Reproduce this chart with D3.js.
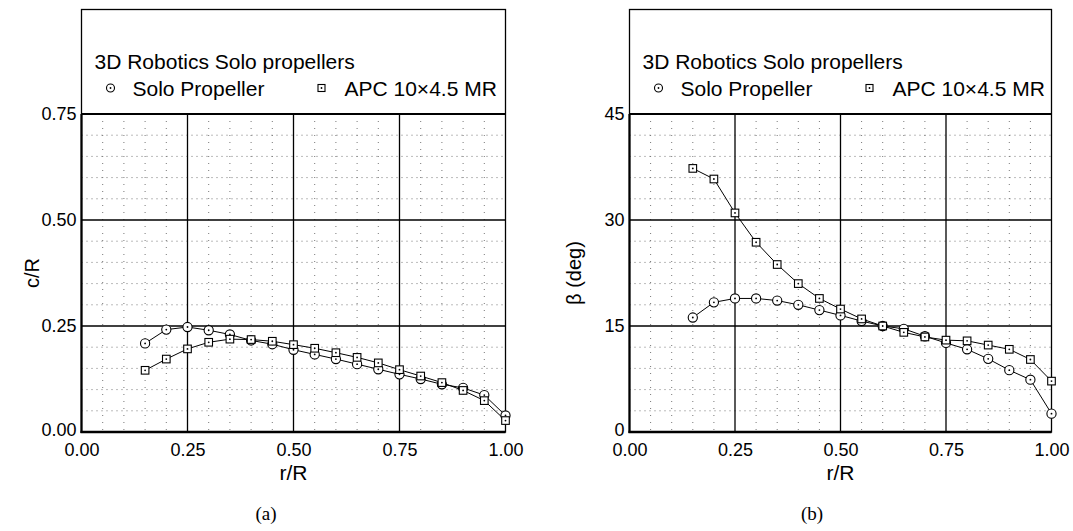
<!DOCTYPE html>
<html><head><meta charset="utf-8">
<script src="https://cdn.jsdelivr.net/npm/d3@7"></script>
<style>
html,body{margin:0;padding:0;background:#fff;}
svg{display:block;}
text{font-family:"Liberation Sans",Arial,Helvetica,sans-serif;fill:#000;}
.cap{font-family:"Liberation Serif","Times New Roman",serif;}
</style></head>
<body><svg id="chart" width="1073" height="531"></svg>
<script>
// ---- data ----
const rR = [0.15,0.20,0.25,0.30,0.35,0.40,0.45,0.50,0.55,0.60,0.65,0.70,0.75,0.80,0.85,0.90,0.95,1.00];
const chordSolo = [0.209,0.2415,0.2476,0.240,0.230,0.216,0.207,0.194,0.183,0.172,0.160,0.148,0.136,0.125,0.1125,0.104,0.087,0.039];
const chordAPC  = [0.1455,0.172,0.196,0.2116,0.219,0.218,0.214,0.206,0.1975,0.187,0.176,0.163,0.147,0.132,0.1165,0.098,0.074,0.027];
const twistSolo = [16.2,18.35,18.9,18.9,18.6,18.0,17.25,16.5,15.7,15.0,14.6,13.55,12.6,11.7,10.35,8.75,7.4,2.6];
const twistAPC  = [37.3,35.8,31.0,26.85,23.7,21.0,18.9,17.4,16.0,15.0,14.1,13.45,13.0,12.9,12.3,11.7,10.26,7.2];
const xTicks = [0,0.25,0.5,0.75,1.0];
const xTickLabels = ["0.00","0.25","0.50","0.75","1.00"];
const chordTicks = [0,0.25,0.5,0.75];
const chordTickLabels = ["0.00","0.25","0.50","0.75"];
const twistTicks = [0,15,30,45];
const twistTickLabels = ["0","15","30","45"];
const legendTitle = "3D Robotics Solo propellers";
const seriesNames = ["Solo Propeller","APC 10\u00d74.5 MR"];
const captions = ["(a)","(b)"];
const xLabel = "r/R";
const yLabels = ["c/R","\u03b2 (deg)"];

const svg = d3.select("#chart");

function drawPanel(o){
  const g = svg.append("g");
  const x = d3.scaleLinear().domain([0,1]).range([o.x0,o.x1]);
  const y = d3.scaleLinear().domain([0,o.ymax]).range([o.y1,o.y0]);
  // minor grid
  const xMinor = d3.range(0,1.0001,0.05).filter(v=>Math.abs(v*4-Math.round(v*4))>1e-6);
  const yMinor = d3.range(0,o.ymax+1e-9,o.ymajor/5).filter(v=>Math.abs(v/o.ymajor-Math.round(v/o.ymajor))>1e-6);
  g.selectAll(".vmin").data(xMinor).join("line")
    .attr("x1",d=>x(d)).attr("x2",d=>x(d)).attr("y1",o.y0).attr("y2",o.y1)
    .attr("stroke","#777").attr("stroke-width",1).attr("stroke-dasharray","1,6");
  g.selectAll(".hmin").data(yMinor).join("line")
    .attr("x1",o.x0).attr("x2",o.x1).attr("y1",d=>y(d)).attr("y2",d=>y(d))
    .attr("stroke","#777").attr("stroke-width",1).attr("stroke-dasharray","1,4");
  // major grid
  g.selectAll(".vmaj").data(xTicks.slice(1,-1)).join("line")
    .attr("x1",d=>x(d)).attr("x2",d=>x(d)).attr("y1",o.y0).attr("y2",o.y1)
    .attr("stroke","#000").attr("stroke-width",1.3);
  g.selectAll(".hmaj").data(o.yTicks.slice(1,-1)).join("line")
    .attr("x1",o.x0).attr("x2",o.x1).attr("y1",d=>y(d)).attr("y2",d=>y(d))
    .attr("stroke","#000").attr("stroke-width",1.3);
  // frame
  g.append("rect").attr("x",o.x0).attr("y",o.top).attr("width",o.x1-o.x0).attr("height",o.y1-o.top)
    .attr("fill","none").attr("stroke","#000").attr("stroke-width",1.3);
  g.append("line").attr("x1",o.x0).attr("x2",o.x1).attr("y1",o.y0).attr("y2",o.y0).attr("stroke","#000").attr("stroke-width",2);
  g.append("line").attr("x1",o.x0).attr("x2",o.x0).attr("y1",o.y0).attr("y2",o.y1+1).attr("stroke","#000").attr("stroke-width",2.2);
  g.append("line").attr("x1",o.x0-1).attr("x2",o.x1).attr("y1",o.y1).attr("y2",o.y1).attr("stroke","#000").attr("stroke-width",2.4);
  // axes labels via d3 axes
  const ax = g.append("g").attr("transform",`translate(0,${o.y1})`)
    .call(d3.axisBottom(x).tickValues(xTicks).tickFormat((d,i)=>xTickLabels[i]).tickSize(0).tickPadding(11));
  ax.select(".domain").remove();
  ax.selectAll("text").attr("font-size",18).attr("font-family","Liberation Sans, Arial, sans-serif").attr("fill","#000");
  const ay = g.append("g").attr("transform",`translate(${o.x0},0)`)
    .call(d3.axisLeft(y).tickValues(o.yTicks).tickFormat((d,i)=>o.yTickLabels[i]).tickSize(0).tickPadding(5));
  ay.select(".domain").remove();
  ay.selectAll("text").attr("font-size",18).attr("font-family","Liberation Sans, Arial, sans-serif").attr("fill","#000")
    .attr("dy",(d,i)=>i===0?"0.2em":"0.32em");
  // axis titles
  g.append("text").attr("x",(o.x0+o.x1)/2).attr("y",480).attr("text-anchor","middle")
    .attr("font-size",21).text(xLabel);
  g.append("text").attr("transform",`translate(${o.ylabX},${(o.y0+o.y1)/2}) rotate(-90)`)
    .attr("text-anchor","middle").attr("font-size",20).text(o.yLabel);
  g.append("text").attr("class","cap").attr("x",o.capX).attr("y",520).attr("text-anchor","middle")
    .attr("font-size",19).text(o.caption);
  // series
  const line = d3.line().x(d=>x(d[0])).y(d=>y(d[1]));
  const s1 = rR.map((r,i)=>[r,o.s1[i]]);
  const s2 = rR.map((r,i)=>[r,o.s2[i]]);
  [s1,s2].forEach(s=>g.append("path").datum(s).attr("d",line).attr("fill","none").attr("stroke","#000").attr("stroke-width",1));
  const drawCircle=(sel,cx,cy,r)=>{
    sel.append("circle").attr("cx",cx).attr("cy",cy).attr("r",r).attr("fill","#fff").attr("stroke","#000").attr("stroke-width",1.1);
    sel.append("circle").attr("cx",cx).attr("cy",cy).attr("r",0.9).attr("fill","#000");
  };
  const drawSquare=(sel,cx,cy,h)=>{
    sel.append("rect").attr("x",cx-h).attr("y",cy-h).attr("width",2*h).attr("height",2*h).attr("fill","#fff").attr("stroke","#000").attr("stroke-width",1.1);
    sel.append("circle").attr("cx",cx).attr("cy",cy).attr("r",0.9).attr("fill","#000");
  };
  const m = g.append("g");
  s1.forEach(d=>drawCircle(m,x(d[0]),y(d[1]),4.6));
  s2.forEach(d=>drawSquare(m,x(d[0]),y(d[1]),3.8));
  // legend
  g.append("text").attr("x",o.x0+13).attr("y",69).attr("font-size",21).text(legendTitle);
  drawCircle(g,o.x0+29,88,4);
  g.append("text").attr("x",o.x0+51).attr("y",95.5).attr("font-size",21).text(seriesNames[0]);
  drawSquare(g,o.x0+240,88,3.5);
  g.append("text").attr("x",o.x0+263).attr("y",95.5).attr("font-size",21).text(seriesNames[1]);
}

drawPanel({x0:81.5,x1:505.5,top:9.5,y0:114,y1:432,ymax:0.75,ymajor:0.25,
  yTicks:chordTicks,yTickLabels:chordTickLabels,s1:chordSolo,s2:chordAPC,
  yLabel:yLabels[0],ylabX:39,capX:266,caption:captions[0]});
drawPanel({x0:629.5,x1:1051.5,top:9.5,y0:114,y1:432,ymax:45,ymajor:15,
  yTicks:twistTicks,yTickLabels:twistTickLabels,s1:twistSolo,s2:twistAPC,
  yLabel:yLabels[1],ylabX:581,capX:812,caption:captions[1]});
</script></body></html>
